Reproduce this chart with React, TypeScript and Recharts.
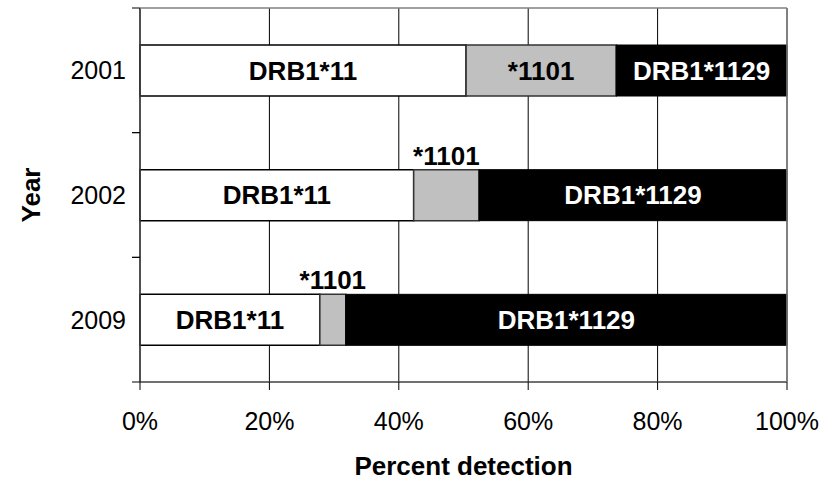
import { Bar, BarChart, CartesianGrid, LabelList, XAxis, YAxis } from 'recharts';

const years = ['2001', '2002', '2009'];
const drb11 = [50.4, 42.3, 27.8];
const drb1101 = [23.2, 10.1, 4.0];
const drb1129 = [26.4, 47.6, 68.2];
const percentTicks = [0, 20, 40, 60, 80, 100];
const alleleNames = ['DRB1*11', '*1101', 'DRB1*1129'];

const data = years.map((year, i) => ({
  year,
  drb11: drb11[i],
  drb1101: drb1101[i],
  drb1129: drb1129[i],
}));

const FONT = '"Liberation Sans", Arial, sans-serif';
const FRAME = '#808080';
const CHART_W = 840;
const CHART_H = 480;
const MARGIN = { top: 8, right: 53, bottom: 0, left: 0 };

// label sits inside the segment when it fits, otherwise just above the bar
function segmentLabel(text: string, color: string) {
  return (props: any) => {
    const vb = props.viewBox ?? props;
    const { x, y, width, height } = vb;
    const fits = width > text.length * 13 + 10;
    return (
      <text
        x={x + width / 2}
        y={fits ? y + height / 2 + 9 : y - 5}
        textAnchor="middle"
        fill={fits ? color : '#000'}
        fontSize={26}
        fontWeight="bold"
        fontFamily={FONT}
      >
        {text}
      </text>
    );
  };
}

// year label plus the tick marks on the band edges; also draws the grey
// frame (top and right) since the grid leaves the plot edges out
function YearTick(props: any) {
  const { x, y, payload, index } = props;
  const half = payload?.offset ?? 0;
  const plotLeft = x + 14;
  const plotRight = CHART_W - MARGIN.right;
  return (
    <g>
      <line x1={x + 6} x2={plotLeft} y1={y - half} y2={y - half} stroke="#000" />
      <line x1={x + 6} x2={plotLeft} y1={y + half} y2={y + half} stroke="#000" />
      <line x1={plotRight} x2={plotRight} y1={y - half} y2={y + half} stroke={FRAME} strokeWidth={1.5} />
      {index === 0 && (
        <line x1={plotLeft} x2={plotRight} y1={y - half} y2={y - half} stroke={FRAME} strokeWidth={1.5} />
      )}
      <text x={x} y={y + 9} textAnchor="end" fill="#000" fontSize={25} fontFamily={FONT}>
        {payload.value}
      </text>
    </g>
  );
}

export default function App() {
  return (
    <div style={{ position: 'absolute', left: 0, top: 0, fontFamily: FONT }}>
      <BarChart width={CHART_W} height={CHART_H} data={data} layout="vertical" margin={MARGIN}>
        <CartesianGrid stroke="#000" horizontal={false} />
        <XAxis
          type="number"
          domain={[0, 100]}
          ticks={percentTicks}
          tickFormatter={(v) => `${v}%`}
          tickSize={8}
          tickMargin={22}
          height={98}
          axisLine={{ stroke: '#404040', strokeWidth: 1.5 }}
          tickLine={{ stroke: '#000' }}
          tick={{ fill: '#000', fontSize: 25, fontFamily: FONT }}
          label={(props: any) => {
            const vb = props.viewBox;
            return (
              <text
                x={vb.x + vb.width / 2}
                y={vb.y + 93}
                textAnchor="middle"
                fontSize={26}
                fontWeight="bold"
                fontFamily={FONT}
                fill="#000"
              >
                Percent detection
              </text>
            );
          }}
        />
        <YAxis
          type="category"
          dataKey="year"
          width={140}
          axisLine={{ stroke: '#404040', strokeWidth: 1.5 }}
          tickLine={false}
          tickSize={8}
          tickMargin={6}
          tick={<YearTick />}
          label={(props: any) => {
            const vb = props.viewBox;
            const cx = vb.x + 31;
            const cy = vb.y + vb.height / 2;
            return (
              <text
                x={cx}
                y={cy}
                transform={`rotate(-90, ${cx}, ${cy})`}
                textAnchor="middle"
                dominantBaseline="central"
                fontSize={26}
                fontWeight="bold"
                fontFamily={FONT}
                fill="#000"
              >
                Year
              </text>
            );
          }}
        />
        <Bar dataKey="drb11" stackId="a" barSize={51} fill="#fff" stroke="#000" strokeWidth={1.5} isAnimationActive={false}>
          <LabelList dataKey="drb11" content={segmentLabel(alleleNames[0], '#000')} />
        </Bar>
        <Bar dataKey="drb1101" stackId="a" barSize={51} fill="#c0c0c0" stroke="#333" strokeWidth={1.5} isAnimationActive={false}>
          <LabelList dataKey="drb1101" content={segmentLabel(alleleNames[1], '#000')} />
        </Bar>
        <Bar dataKey="drb1129" stackId="a" barSize={51} fill="#000" stroke="#000" strokeWidth={1} isAnimationActive={false}>
          <LabelList dataKey="drb1129" content={segmentLabel(alleleNames[2], '#fff')} />
        </Bar>
      </BarChart>
    </div>
  );
}
